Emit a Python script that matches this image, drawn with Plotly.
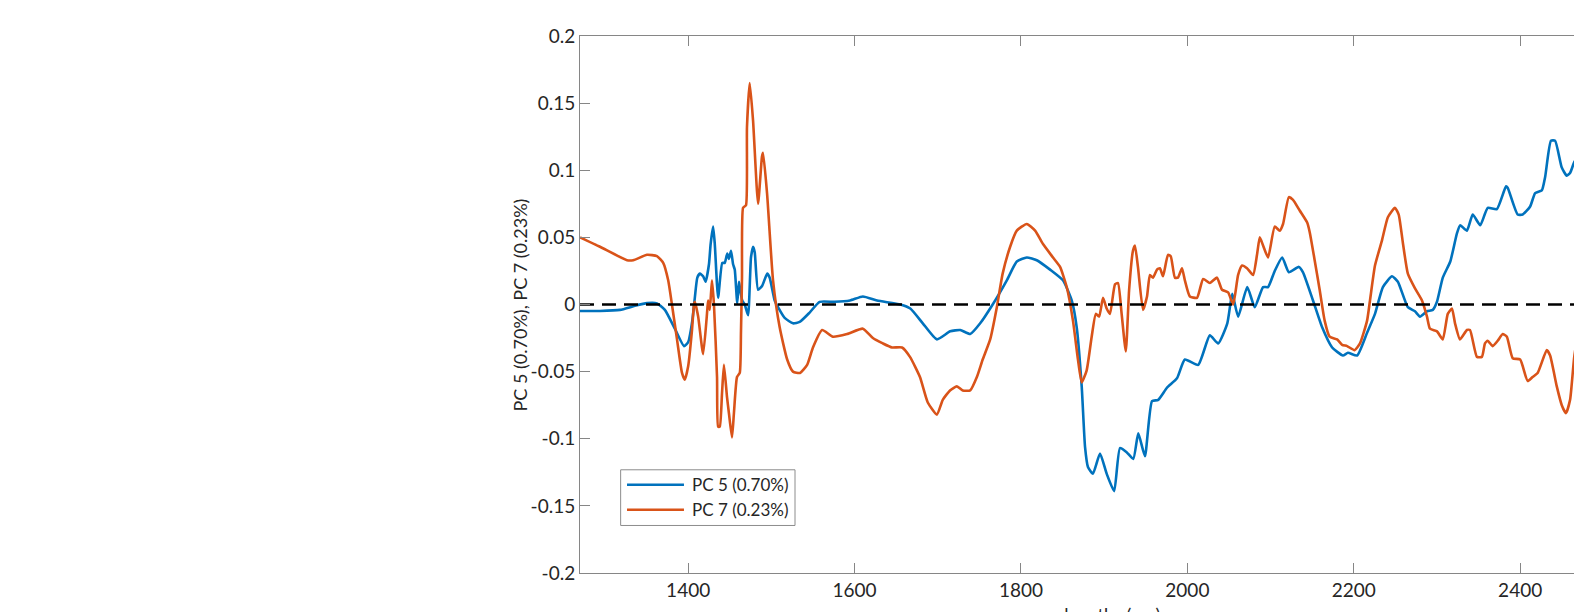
import plotly.graph_objects as go

# ---------------- data ----------------
pc5_wl = [1270, 1294, 1318, 1336, 1350.5, 1362.5, 1372, 1384, 1395, 1400, 1405, 1408, 1411, 1414, 1418,
          1421, 1425, 1427, 1430, 1432, 1436, 1441, 1444, 1447, 1449, 1451.5, 1454, 1456, 1459, 1461,
          1462, 1465, 1468, 1472, 1475.5, 1478, 1480, 1484, 1489, 1495, 1498, 1504, 1508, 1516, 1526,
          1534, 1546, 1558, 1576, 1594.5, 1610, 1627, 1655, 1667, 1682, 1699, 1715, 1727, 1739, 1751,
          1766, 1783, 1795, 1807, 1819, 1835, 1850.5, 1861, 1867, 1873, 1877, 1880.5, 1886.5, 1895, 1903,
          1912, 1919, 1927, 1935, 1941, 1949, 1957.5, 1965, 1975.5, 1987.5, 1997, 2013, 2027, 2037, 2048,
          2054, 2061, 2072, 2081, 2091, 2097, 2105, 2114, 2122, 2134, 2139, 2151, 2162, 2174, 2187,
          2193, 2204, 2216, 2225.5, 2235, 2246, 2253, 2265, 2273.5, 2279.6, 2288, 2295, 2300, 2307, 2316,
          2324, 2328, 2336, 2343, 2352, 2361, 2372, 2383, 2385, 2397, 2403, 2412, 2418, 2426, 2430,
          2437, 2442, 2450, 2456, 2460, 2465, 2475, 2490]
pc5_val = [-0.0048, -0.0048, -0.004, -0.001, 0.001, 0.0008, -0.004, -0.018, -0.031, -0.028, -0.012, 0.005, 0.02, 0.023, 0.021,
           0.017, 0.03, 0.045, 0.058, 0.045, 0.005, 0.031, 0.031, 0.038, 0.034, 0.04, 0.03, 0.026, 0.001, 0.017,
           0.013, 0.003, 0.0, -0.008, 0.035, 0.043, 0.039, 0.011, 0.014, 0.023, 0.02, 0.003, -0.002, -0.01, -0.014,
           -0.013, -0.006, 0.002, 0.002, 0.003, 0.006, 0.003, 0.0, -0.003, -0.014, -0.026, -0.02, -0.019, -0.022, -0.014,
           0.0, 0.018, 0.032, 0.035, 0.033, 0.026, 0.018, 0.003, -0.017, -0.061, -0.106, -0.121, -0.126, -0.111, -0.126,
           -0.139, -0.107, -0.11, -0.115, -0.096, -0.113, -0.072, -0.071, -0.062, -0.055, -0.041, -0.045, -0.023, -0.029, -0.014,
           0.008, -0.009, 0.013, -0.002, 0.013, 0.013, 0.025, 0.035, 0.024, 0.028, 0.024, 0.003, -0.017, -0.032, -0.038,
           -0.036, -0.038, -0.021, -0.007, 0.013, 0.021, 0.017, -0.002, -0.005, -0.009, -0.005, -0.004, 0.002, 0.02, 0.032,
           0.053, 0.059, 0.055, 0.067, 0.059, 0.072, 0.071, 0.088, 0.087, 0.067, 0.067, 0.073, 0.083, 0.085, 0.095,
           0.122, 0.122, 0.102, 0.096, 0.098, 0.106, 0.115, 0.11]

pc7_wl = [1270, 1294, 1326.5, 1334, 1350.5, 1362.5, 1370, 1376, 1380.5, 1386.6, 1392.6, 1396, 1400, 1404.6, 1407,
          1408, 1412, 1418, 1423, 1424, 1426, 1428.6, 1431, 1434.7, 1436, 1438, 1440.7, 1443, 1446.7, 1449,
          1452.7, 1455, 1458.7, 1462, 1463.5, 1464.7, 1466, 1469.5, 1470.7, 1474, 1478, 1484, 1488.7, 1490, 1494.8,
          1502, 1510, 1519, 1526, 1534.4, 1543, 1550, 1561, 1574, 1591, 1610, 1622, 1634, 1645, 1657,
          1666.6, 1678.6, 1688, 1699, 1706, 1714.7, 1723, 1730, 1739, 1747, 1754, 1763, 1771, 1778, 1787,
          1795, 1807, 1817, 1826.5, 1838.5, 1847, 1855, 1862.5, 1868.5, 1873, 1879, 1885, 1890, 1894, 1898.6,
          1903, 1907, 1913, 1916.6, 1921, 1926, 1930, 1934.6, 1937, 1940.6, 1946.7, 1951.5, 1955, 1958.7, 1963.5,
          1967, 1970.7, 1976.7, 1980, 1985, 1988.7, 1993.5, 1997, 2003, 2011.6, 2019, 2027, 2035.6, 2041.6, 2049,
          2055, 2061, 2065.7, 2071.7, 2079, 2083.7, 2087, 2091, 2097, 2105, 2111, 2115, 2122, 2127, 2135,
          2144, 2147, 2153, 2159, 2165, 2171, 2180, 2186, 2192, 2201, 2207.5, 2216, 2219.5, 2225.5, 2234,
          2241, 2249.5, 2254, 2259, 2265, 2273.6, 2282, 2288, 2291.6, 2300, 2307, 2313, 2318, 2321.7, 2327.7,
          2336, 2339.7, 2348, 2354, 2357.7, 2361, 2367, 2373, 2379, 2384, 2391, 2400, 2409, 2415, 2421,
          2432, 2436, 2444, 2450, 2455, 2460, 2465, 2475]
pc7_val = [0.05, 0.043, 0.033, 0.033, 0.037, 0.036, 0.031, 0.018, 0.0, -0.026, -0.051, -0.056, -0.046, -0.019, 0.0,
           0.002, -0.009, -0.037, -0.004, 0.003, -0.004, 0.018, 0.0, -0.054, -0.091, -0.091, -0.066, -0.045, -0.069, -0.081,
           -0.099, -0.081, -0.054, -0.051, -0.02, 0.02, 0.072, 0.074, 0.132, 0.165, 0.137, 0.075, 0.11, 0.113, 0.083,
           0.018, -0.017, -0.041, -0.05, -0.051, -0.045, -0.032, -0.019, -0.024, -0.022, -0.018, -0.025, -0.029, -0.032, -0.032,
           -0.039, -0.054, -0.073, -0.082, -0.071, -0.064, -0.061, -0.064, -0.064, -0.054, -0.041, -0.026, -0.002, 0.023, 0.043,
           0.055, 0.06, 0.055, 0.045, 0.035, 0.028, 0.013, -0.012, -0.041, -0.058, -0.049, -0.024, -0.007, -0.009, 0.005,
           -0.003, -0.007, 0.015, 0.016, -0.007, -0.035, 0.011, 0.04, 0.044, 0.028, -0.004, 0.006, 0.022, 0.02, 0.026,
           0.027, 0.021, 0.037, 0.036, 0.02, 0.02, 0.027, 0.018, 0.006, 0.005, 0.019, 0.016, 0.02, 0.011, 0.009,
           0.0, 0.022, 0.029, 0.027, 0.022, 0.037, 0.05, 0.044, 0.035, 0.058, 0.055, 0.06, 0.08, 0.078, 0.07,
           0.061, 0.054, 0.033, 0.011, -0.012, -0.024, -0.026, -0.03, -0.031, -0.034, -0.029, -0.012, 0.003, 0.029, 0.048,
           0.065, 0.072, 0.067, 0.046, 0.023, 0.012, 0.003, -0.009, -0.018, -0.02, -0.026, -0.007, -0.003, -0.014, -0.026,
           -0.019, -0.019, -0.039, -0.039, -0.029, -0.027, -0.031, -0.027, -0.022, -0.024, -0.04, -0.041, -0.057, -0.054, -0.051,
           -0.034, -0.038, -0.061, -0.075, -0.081, -0.071, -0.039, 0.0]

zero_wl = [1270, 2500]
zero_val = [0, 0]

series_names = ["PC 5 (0.70%)", "PC 7 (0.23%)"]
series_colors = ["#0072BD", "#D95319"]

x_tickvals = [1400, 1600, 1800, 2000, 2200, 2400]
x_ticktext = ["1400", "1600", "1800", "2000", "2200", "2400"]
y_tickvals = [-0.2, -0.15, -0.1, -0.05, 0, 0.05, 0.1, 0.15, 0.2]
y_ticktext = ["-0.2", "-0.15", "-0.1", "-0.05", "0", "0.05", "0.1", "0.15", "0.2"]

x_title = "wavelengths (nm)"
y_title = "PC 5 (0.70%), PC 7 (0.23%)"

# ---------------- figure ----------------
FONT = "Lato, 'Open Sans', sans-serif"
TXT = "#262626"
AX = "#868686"
LW = 2.6
TICKSIZE = 19
TEXTSIZE = 18

fig = go.Figure()
fig.add_trace(go.Scatter(x=pc5_wl, y=pc5_val, mode="lines", name=series_names[0],
                         line=dict(color=series_colors[0], width=LW, shape="spline", smoothing=0.5)))
fig.add_trace(go.Scatter(x=pc7_wl, y=pc7_val, mode="lines", name=series_names[1],
                         line=dict(color=series_colors[1], width=LW, shape="spline", smoothing=0.5)))
fig.add_trace(go.Scatter(x=zero_wl, y=zero_val, mode="lines", showlegend=False,
                         line=dict(color="black", width=2.6, dash="14px,8px")))

fig.update_layout(
    width=1574, height=612,
    margin=dict(l=580, r=0, t=36, b=39),
    paper_bgcolor="white", plot_bgcolor="white",
    showlegend=False,
    font=dict(family=FONT, size=TEXTSIZE, color=TXT),
)
fig.update_xaxes(range=[1270, 2464.7], tickvals=x_tickvals, ticktext=x_ticktext,
                 ticks="inside", ticklen=10, tickcolor=AX, tickwidth=1,
                 showline=True, linecolor=AX, linewidth=1, mirror="ticks",
                 showgrid=False, zeroline=False, tickfont=dict(size=TICKSIZE, color=TXT))
fig.update_yaxes(range=[-0.2, 0.2], tickvals=y_tickvals, ticktext=y_ticktext,
                 ticks="inside", ticklen=10, tickcolor=AX, tickwidth=1,
                 showline=True, linecolor=AX, linewidth=1, mirror=False,
                 showgrid=False, zeroline=False, tickfont=dict(size=TICKSIZE, color=TXT))

# axis titles
fig.add_annotation(text=y_title, xref="paper", yref="paper", x=-0.0604, y=0.5,
                   textangle=-90, showarrow=False, xanchor="center", yanchor="middle",
                   font=dict(size=TEXTSIZE, color=TXT))
fig.add_annotation(text=x_title, xref="x", yref="paper", x=1885, y=-0.052,
                   showarrow=False, xanchor="center", yanchor="top",
                   font=dict(size=TEXTSIZE, color=TXT))

# legend box (MATLAB-style)
fig.add_shape(type="rect", xref="paper", yref="paper", x0=0.0409, x1=0.2163, y0=0.0885, y1=0.1922,
              line=dict(color="#8c8c8c", width=1), fillcolor="white")
rows_y = [0.1642, 0.1177]
for name, col, yy in zip(series_names, series_colors, rows_y):
    fig.add_shape(type="line", xref="paper", yref="paper", x0=0.0473, x1=0.1046, y0=yy, y1=yy,
                  line=dict(color=col, width=LW))
    fig.add_annotation(text=name, xref="paper", yref="paper", x=0.1107, y=yy,
                       showarrow=False, xanchor="left", yanchor="middle",
                       font=dict(size=17, color=TXT))

fig.write_html("out.html",
               config={"displayModeBar": False},
               post_script="document.body.style.margin='0';document.body.style.overflow='hidden';")
